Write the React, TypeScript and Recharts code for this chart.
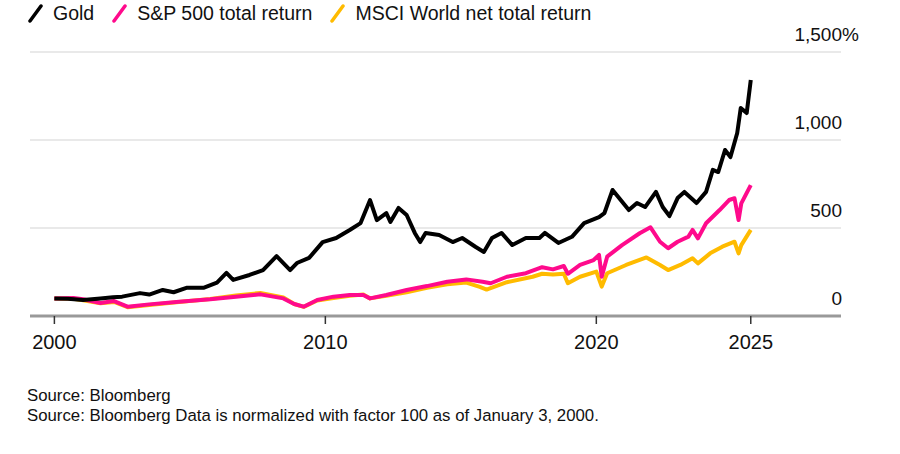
import React from "react";
import { LineChart, Line, XAxis, YAxis, CartesianGrid } from "recharts";

// index values, 100 = Jan 3, 2000
const goldYears = [
  2000.0, 2000.5, 2001.06, 2001.7, 2002.16, 2002.5, 2003.16, 2003.5, 2004.0, 2004.4,
  2004.9, 2005.5, 2006.0, 2006.35, 2006.6, 2007.2, 2007.7, 2008.2, 2008.7, 2008.95,
  2009.4, 2009.9, 2010.4, 2010.9, 2011.3, 2011.65, 2011.9, 2012.25, 2012.4, 2012.7,
  2013.0, 2013.3, 2013.5, 2013.7, 2014.2, 2014.7, 2015.05, 2015.55, 2015.85, 2016.15,
  2016.5, 2016.9, 2017.4, 2017.9, 2018.1, 2018.6, 2019.1, 2019.55, 2020.1, 2020.3,
  2020.6, 2020.9, 2021.2, 2021.5, 2021.8, 2022.2, 2022.45, 2022.7, 2023.0, 2023.25,
  2023.7, 2024.05, 2024.3, 2024.5, 2024.75, 2024.95, 2025.2, 2025.33, 2025.55, 2025.7,
];
const goldValues = [
  100, 98, 91, 100, 106, 110, 130, 122, 148, 135,
  161, 160, 190, 245, 205, 233, 261, 340, 261, 301,
  330, 420, 443, 489, 528, 659, 545, 585, 534, 614,
  574, 472, 420, 472, 460, 420, 443, 392, 364, 443,
  472, 403, 443, 443, 472, 415, 450, 528, 562, 585,
  716, 659, 602, 642, 619, 705, 619, 568, 670, 705,
  642, 705, 830, 818, 943, 903, 1040, 1182, 1153, 1341,
];

const spxYears = [
  2000.0, 2000.7, 2001.06, 2001.7, 2002.2, 2002.7, 2003.5, 2004.6, 2005.75, 2006.7,
  2007.6, 2008.45, 2008.85, 2009.2, 2009.7, 2010.3, 2010.9, 2011.4, 2011.65, 2012.25,
  2013.0, 2013.75, 2014.5, 2015.2, 2015.8, 2016.1, 2016.7, 2017.4, 2018.0, 2018.4,
  2018.8, 2018.95, 2019.4, 2019.9, 2020.1, 2020.2, 2020.4, 2020.95, 2021.6, 2022.0,
  2022.35, 2022.65, 2023.0, 2023.4, 2023.55, 2023.75, 2024.05, 2024.55, 2024.9, 2025.1,
  2025.25, 2025.35, 2025.7,
];
const spxValues = [
  100, 102, 95, 74, 85, 53, 66, 81, 95, 110,
  123, 100, 68, 53, 91, 110, 119, 119, 100, 119,
  148, 170, 195, 208, 195, 186, 223, 243, 277, 265,
  284, 240, 290, 318, 347, 223, 337, 403, 470, 504,
  422, 385, 422, 451, 489, 441, 527, 602, 659, 669,
  545, 640, 744,
];

const msciYears = [
  2000.0, 2000.7, 2001.06, 2001.7, 2002.2, 2002.7, 2003.5, 2004.6, 2005.75, 2006.7,
  2007.6, 2008.45, 2008.85, 2009.2, 2009.7, 2010.3, 2010.9, 2011.4, 2011.65, 2012.25,
  2013.0, 2013.75, 2014.5, 2015.2, 2015.7, 2015.95, 2016.7, 2017.65, 2018.0, 2018.4,
  2018.8, 2018.95, 2019.4, 2020.0, 2020.2, 2020.4, 2021.1, 2021.85, 2022.35, 2022.65,
  2023.1, 2023.55, 2023.75, 2024.2, 2024.65, 2025.1, 2025.25, 2025.35, 2025.7,
];
const msciValues = [
  100, 98, 90, 72, 80, 50, 63, 80, 97, 116,
  131, 106, 68, 52, 88, 102, 115, 122, 100, 115,
  135, 160, 180, 190, 165, 150, 192, 223, 240, 236,
  240, 186, 223, 252, 167, 243, 290, 333, 290, 261,
  290, 328, 299, 356, 394, 422, 356, 403, 489,
];

const xTicks = [2000, 2010, 2020, 2025.7];
const xTickLabels = ["2000", "2010", "2020", "2025"];
const yTicks = [0, 500, 1000, 1500];

const seriesNames = ["Gold", "S&P 500 total return", "MSCI World net total return"];
const seriesColors = ["#000000", "#ff0a8c", "#ffbb00"];

const toRows = (years: number[], values: number[]) =>
  years.map((t, i) => ({ t, v: values[i] }));

const goldData = toRows(goldYears, goldValues);
const spxData = toRows(spxYears, spxValues);
const msciData = toRows(msciYears, msciValues);

const FONT = '"Liberation Sans", Arial, sans-serif';
const TEXT = "#111111";

const YTick = (props: any) => {
  const { x, y, payload } = props;
  const label = Number(payload.value).toLocaleString("en-US");
  return (
    <g>
      <text x={x + 1} y={y - 11} textAnchor="end" fontSize={19} fill={TEXT} fontFamily={FONT}>
        {label}
      </text>
      {payload.value === yTicks[yTicks.length - 1] && (
        <text x={x + 1} y={y - 11} textAnchor="start" fontSize={19} fill={TEXT} fontFamily={FONT}>
          %
        </text>
      )}
    </g>
  );
};

const LegendIcon = ({ color }: { color: string }) => (
  <svg width={16} height={20} style={{ display: "block" }}>
    <line x1={2} y1={18} x2={13} y2={3} stroke={color} strokeWidth={3.5} strokeLinecap="round" />
  </svg>
);

export default function App() {
  return (
    <div
      style={{
        position: "absolute",
        top: 0,
        left: 0,
        width: 900,
        height: 454,
        background: "#fff",
        fontFamily: FONT,
        color: TEXT,
      }}
    >
      <div
        style={{
          position: "absolute",
          top: 1,
          left: 28,
          display: "flex",
          alignItems: "center",
          fontSize: 19.5,
          lineHeight: "24px",
        }}
      >
        {seriesNames.map((name, i) => (
          <div key={name} style={{ display: "flex", alignItems: "center", marginRight: 18 }}>
            <LegendIcon color={seriesColors[i]} />
            <span style={{ marginLeft: 9 }}>{name}</span>
          </div>
        ))}
      </div>

      <div style={{ position: "absolute", top: 0, left: 0 }}>
        <LineChart
          width={900}
          height={360}
          margin={{ top: 52, right: 0, left: 30, bottom: 0 }}
        >
          <CartesianGrid horizontal vertical={false} stroke="#e2e2e2" strokeWidth={1.5} />
          <XAxis
            dataKey="t"
            type="number"
            domain={[1999.1, 2029.03]}
            ticks={xTicks}
            interval={0}
            allowDataOverflow
            height={44}
            tickFormatter={(v) => xTickLabels[xTicks.indexOf(v)]}
            axisLine={{ stroke: "#999999", strokeWidth: 3 }}
            tickLine={{ stroke: "#333333", strokeWidth: 1.5 }}
            tickSize={8}
            tickMargin={11}
            tick={{ fill: TEXT, fontSize: 20, fontFamily: FONT }}
          />
          <YAxis
            orientation="right"
            domain={[0, 1500]}
            ticks={yTicks}
            interval={0}
            width={59}
            axisLine={false}
            tickLine={false}
            tickSize={0}
            tickMargin={0}
            tick={<YTick />}
          />
          <Line
            data={msciData}
            dataKey="v"
            type="linear"
            stroke={seriesColors[2]}
            strokeWidth={4}
            strokeLinejoin="round"
            dot={false}
            isAnimationActive={false}
          />
          <Line
            data={spxData}
            dataKey="v"
            type="linear"
            stroke={seriesColors[1]}
            strokeWidth={4}
            strokeLinejoin="round"
            dot={false}
            isAnimationActive={false}
          />
          <Line
            data={goldData}
            dataKey="v"
            type="linear"
            stroke={seriesColors[0]}
            strokeWidth={4}
            strokeLinejoin="round"
            dot={false}
            isAnimationActive={false}
          />
        </LineChart>
      </div>

      <div
        style={{
          position: "absolute",
          top: 386,
          left: 27,
          fontSize: 16.8,
          lineHeight: "20px",
        }}
      >
        <div>Source: Bloomberg</div>
        <div>Source: Bloomberg Data is normalized with factor 100 as of January 3, 2000.</div>
      </div>
    </div>
  );
}
